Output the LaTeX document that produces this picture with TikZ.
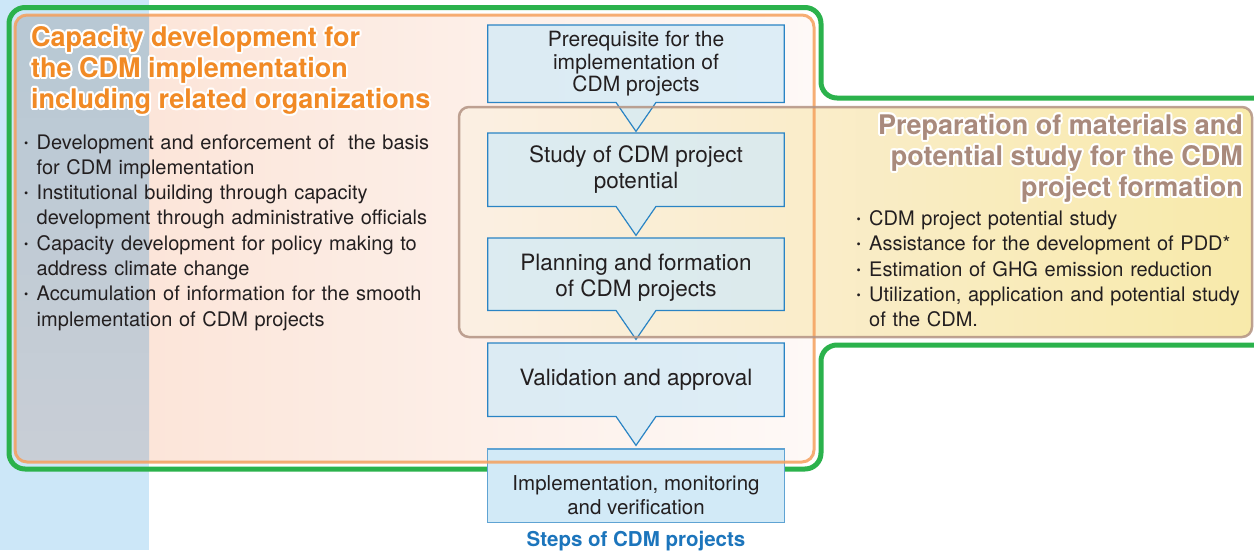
\documentclass[tikz,border=0pt]{standalone}
\usepackage{fontspec}
\setmainfont{TeX Gyre Heros}
\usetikzlibrary{calc}
\definecolor{stripblue}{HTML}{CCE7F8}
\definecolor{cdmgreen}{HTML}{2BB24C}
\definecolor{orline}{HTML}{F5A05C}
\definecolor{orhead}{HTML}{F18A25}
\definecolor{brline}{HTML}{B39383}
\definecolor{brhead}{HTML}{A98A7C}
\definecolor{boxfill}{HTML}{D2EAF7}
\definecolor{boxline}{HTML}{2A84C4}
\definecolor{txt}{HTML}{231F20}
\definecolor{stepblue}{HTML}{1C75BC}
\definecolor{orfillL}{HTML}{FBE1D3}
\definecolor{orfillR}{HTML}{FEF9F7}
\definecolor{grayT}{HTML}{B7C8D4}
\definecolor{grayB}{HTML}{C9CED6}
\definecolor{brfillL}{HTML}{FBEFE3}
\definecolor{brfillM}{HTML}{FCF6DD}
\definecolor{brfillR}{HTML}{F8EAAA}
\pgfdeclarelayer{bg}
\pgfdeclarelayer{boxes}
\pgfsetlayers{bg,boxes,main}
\newcommand\halotext[1]{\leavevmode\rlap{\color{white}\foreach \hA in {0,30,...,330}{\pgfmathsetlengthmacro\hX{2*cos(\hA)}\pgfmathsetlengthmacro\hY{2*sin(\hA)}\rlap{\hspace*{\hX}\raisebox{\hY}{#1}}}}#1}
\newcommand\cdmbul{\par\noindent\makebox[12.5pt][l]{\raisebox{2pt}{\fontsize{12}{12}\selectfont •}}}
\newcommand\cdmcont{\par\noindent\hspace*{12.5pt}}
\begin{document}
\begin{tikzpicture}[x=1pt,y=-1pt,
  stepbox/.style={rectangle, minimum width=296pt, inner sep=0pt, align=center, text=txt, anchor=north},
  stepoutline/.style={fill=boxfill, fill opacity=0.75, draw=boxline, line width=1.2pt, line join=miter},
  lastoutline/.style={fill=boxfill, draw=boxline!75, line width=1.2pt},
  headtext/.style={font=\fontsize{27}{31}\selectfont\bfseries, inner sep=0pt},
  listtext/.style={font=\fontsize{20}{25.3}\selectfont, text=txt, inner sep=0pt, align=left}]
\useasboundingbox (0,0) rectangle (1254,550);
\begin{pgfonlayer}{bg}
  \fill[stripblue] (0,0) rectangle (149,550);
  \draw[cdmgreen, line width=5pt, rounded corners=16pt] (1275,98) -- (821,98) -- (821,7.5) -- (9,7.5) -- (9,469) -- (821,469) -- (821,345) -- (1275,345);
  \begin{scope}
    \clip[rounded corners=12pt] (15,15) rectangle (814,462);
    \shade[left color=orfillL, right color=orfillR] (15,15) rectangle (814,462);
    \shade[top color=grayT, bottom color=grayB] (0,0) rectangle (149,470);
  \end{scope}
  \shade[rounded corners=10pt, left color=brfillL, middle color=brfillM, right color=brfillR] (459,107) rectangle (1252,337);
\end{pgfonlayer}
% steps
\node[stepbox, minimum height=77pt, font=\fontsize{21}{22.5}\selectfont] (b1) at (636,25) {Prerequisite for the\\implementation of\\CDM projects};
\node[stepbox, minimum height=73pt, font=\fontsize{22.5}{26}\selectfont] (b2) at (636,133) {Study of CDM project\\potential};
\node[stepbox, font=\fontsize{22.5}{26}\selectfont, text height=58pt, text depth=14pt] (b3) at (636,238) {Planning and formation\\of CDM projects};
\node[stepbox, minimum height=73pt, font=\fontsize{22.5}{26}\selectfont] (b4) at (636,343) {Validation and approval};
\node[stepbox, font=\fontsize{20.5}{24}\selectfont, text height=65pt, text depth=8pt] (b5) at (636,449) {Implementation, monitoring\\and verification};
\begin{pgfonlayer}{boxes}
  \foreach \b in {b1,b2,b3,b4}{
    \path[stepoutline] (\b.north west) -- (\b.north east) -- (\b.south east) -- ($(\b.south)+(20,0)$) -- ($(\b.south)+(0,29)$) -- ($(\b.south)+(-20,0)$) -- (\b.south west) -- cycle;
  }
  \path[lastoutline] (b5.north west) rectangle (b5.south east);
\end{pgfonlayer}
\draw[orline, line width=3pt, draw opacity=0.85, rounded corners=12pt] (15,15) rectangle (814,462);
\draw[brline, line width=2.5pt, draw opacity=0.85, rounded corners=10pt] (459,107) rectangle (1252,337);
% headings
\node[headtext, text=orhead, anchor=base west, align=left] (hcap) at (31,108.5) {\halotext{Capacity development for}\\\halotext{the CDM implementation}\\\halotext{including related organizations}};
\node[headtext, text=brhead, anchor=base east, align=right] (hprep) at (1243,196.5) {\halotext{Preparation of materials and}\\\halotext{potential study for the CDM}\\\halotext{project formation}};
% lists
\node[listtext, text width=440pt, anchor=north west] (lcap) at (24,123.5) {\cdmbul Development and enforcement of\ \ the basis\cdmcont for CDM implementation\cdmbul Institutional building through capacity\cdmcont development through administrative officials\cdmbul Capacity development for policy making to\cdmcont address climate change\cdmbul Accumulation of information for the smooth\cdmcont implementation of CDM projects};
\node[listtext, text width=440pt, anchor=north west] (lprep) at (856.5,200) {\cdmbul CDM project potential study\cdmbul Assistance for the development of PDD*\cdmbul Estimation of GHG emission reduction\cdmbul Utilization, application and potential study\cdmcont of the CDM.};
\node[font=\fontsize{20.5}{24}\selectfont\bfseries, text=stepblue, inner sep=0pt, anchor=base] (steps) at (636,546.5) {Steps of CDM projects};
\end{tikzpicture}
\end{document}
